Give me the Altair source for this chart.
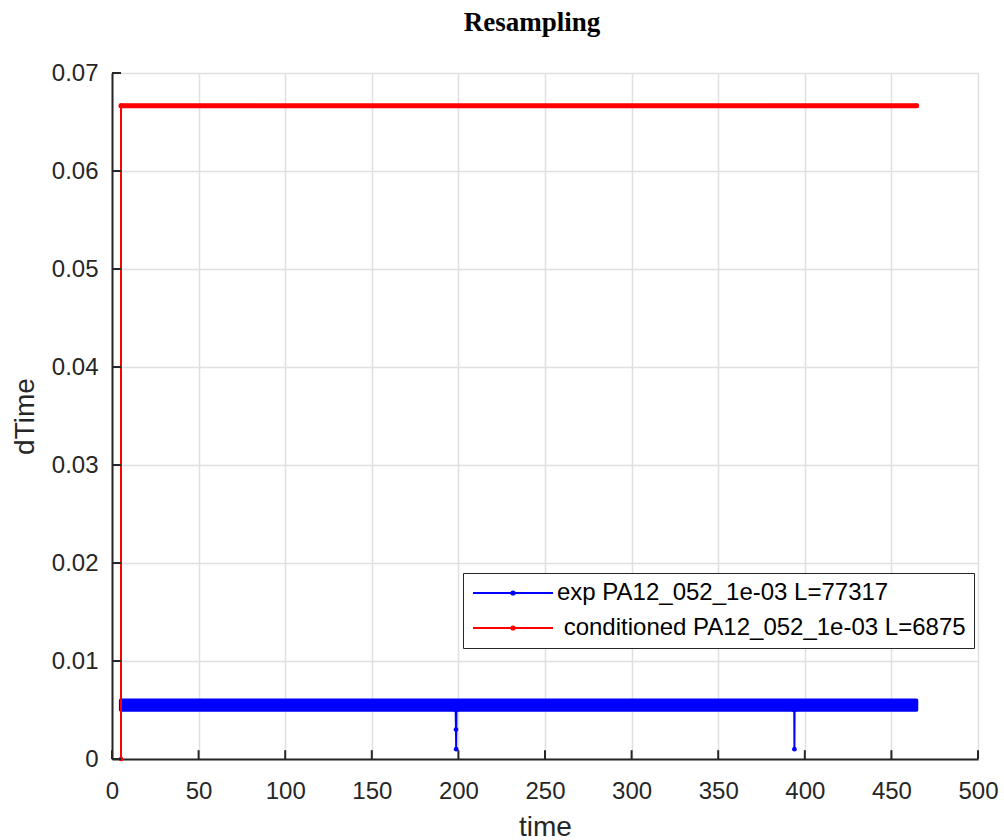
import altair as alt
import pandas as pd

# ---- data ----
x_ticks = [0, 50, 100, 150, 200, 250, 300, 350, 400, 450, 500]
y_ticks = [0, 0.01, 0.02, 0.03, 0.04, 0.05, 0.06, 0.07]

exp_label = "exp PA12_052_1e-03 L=77317"
cond_label = "\u200b conditioned PA12_052_1e-03 L=6875"

# the dense experimental samples oscillate between these two levels (drawn as a band)
band_t = [5.0, 464.5]
band_lo = [0.0050, 0.0050]
band_hi = [0.0060, 0.0060]

# isolated experimental samples that drop out of the band
exp_t = [198.4, 198.6, 198.7, 198.9, 393.9, 394.0, 394.1]
exp_dt = [0.0050, 0.0030, 0.0010, 0.0050, 0.0050, 0.0010, 0.0050]

# conditioned signal
cond_t = [5.2, 5.2, 464.5]
cond_dt = [0.0, 0.06667, 0.06667]

BLUE = "#0000ff"
RED = "#ff0000"
AX = "#262626"
FONT = "Liberation Sans"

band_df = pd.DataFrame({"t": band_t, "lo": band_lo, "hi": band_hi})
lines_df = pd.DataFrame({
    "series": [exp_label] * len(exp_t) + [cond_label] * len(cond_t),
    "t": exp_t + cond_t,
    "dt": exp_dt + cond_dt,
    "idx": list(range(len(exp_t))) + list(range(len(cond_t))),
})
dense_df = pd.DataFrame({"t": cond_t[1:], "dt": cond_dt[1:]})
xt_df = pd.DataFrame({"v": x_ticks})
yt_df = pd.DataFrame({"v": y_ticks})

xscale = alt.Scale(domain=[0, 500], nice=False, zero=False)
yscale = alt.Scale(domain=[0, 0.07], nice=False, zero=False)

xaxis = alt.Axis(
    values=x_ticks, title="time", grid=True, ticks=False, labelFlush=False,
    labelFont=FONT, labelFontSize=24, labelColor=AX, labelPadding=20,
    domainColor=AX, domainWidth=2, gridColor="#e0e0e0", gridWidth=1.5,
    titleFont=FONT, titleFontSize=28, titleFontWeight="normal", titleColor=AX,
    titleX=433, titleY=76, titleBaseline="alphabetic", titleAlign="center",
)
yaxis = alt.Axis(
    values=y_ticks, title="dTime", grid=True, ticks=False, format=".2~f", labelFlush=False,
    labelFont=FONT, labelFontSize=24, labelColor=AX, labelPadding=14,
    domainColor=AX, domainWidth=2, gridColor="#e0e0e0", gridWidth=1.5,
    titleFont=FONT, titleFontSize=28, titleFontWeight="normal", titleColor=AX,
    titleX=-79, titleY=343, titleBaseline="alphabetic", titleAlign="center", titleAngle=270,
)

X = lambda f: alt.X(f, scale=xscale, axis=xaxis)
Y = lambda f: alt.Y(f, scale=yscale, axis=yaxis)

band = alt.Chart(band_df).mark_area(
    color=BLUE, stroke=BLUE, strokeWidth=3.5, strokeJoin="round", opacity=1
).encode(
    x=X("t:Q"),
    y=Y("lo:Q"),
    y2="hi:Q",
)

# legend symbol: an 80 px line with a dot in the middle (scaled by sqrt(size)/2 = 10)
legend_symbol = "M-4,0L4,0M0.16,0A0.16,0.16,0,1,1,-0.16,0A0.16,0.16,0,1,1,0.16,0"

lines = alt.Chart(lines_df).mark_line(strokeWidth=2).encode(
    x=X("t:Q"),
    y=Y("dt:Q"),
    color=alt.Color(
        "series:N",
        scale=alt.Scale(domain=[exp_label, cond_label], range=[BLUE, RED]),
        legend=alt.Legend(
            title=None, orient="none", legendX=351, legendY=500,
            symbolType=legend_symbol, symbolSize=400, symbolStrokeWidth=2,
            symbolOffset=30, labelOffset=32,
            labelFont=FONT, labelFontSize=24, labelColor="black", labelLimit=1000,
            padding=8, rowPadding=11,
            strokeColor=AX, fillColor="white",
        ),
    ),
    detail="series:N",
    order="idx:Q",
)

dense = alt.Chart(dense_df).mark_line(color=RED, strokeWidth=5, strokeCap="round").encode(
    x=X("t:Q"),
    y=Y("dt:Q"),
)

points = alt.Chart(lines_df).mark_circle(size=22, opacity=1).encode(
    x=X("t:Q"),
    y=Y("dt:Q"),
    color=alt.Color("series:N", scale=alt.Scale(domain=[exp_label, cond_label], range=[BLUE, RED]), legend=None),
)

# inward-pointing tick marks (MATLAB style), ~9 px long
TICK_Y = 0.0009   # 9 px in y data units
TICK_X = 5.2      # 9 px in x data units
xticks_layer = alt.Chart(xt_df).mark_rule(color=AX, strokeWidth=2).encode(
    x=X("v:Q"),
    y=alt.datum(0, scale=yscale),
    y2=alt.datum(TICK_Y),
)
yticks_layer = alt.Chart(yt_df).mark_rule(color=AX, strokeWidth=2).encode(
    y=Y("v:Q"),
    x=alt.datum(0, scale=xscale),
    x2=alt.datum(TICK_X),
)

chart = alt.layer(band, lines, dense, points, xticks_layer, yticks_layer).properties(
    width=866,
    height=686,
    autosize=alt.AutoSizeParams(type="none"),
    padding={"left": 112, "top": 73, "right": 26, "bottom": 81},
    title=alt.TitleParams(
        text="Resampling", font="Liberation Serif", fontSize=27, fontWeight="bold",
        color="black", anchor="middle", frame="group", dx=-13, offset=3,
        baseline="alphabetic",
    ),
).configure_view(stroke=None).configure_axis(ticks=False).configure_legend(strokeWidth=2).configure(background="white")

chart.save("out.html", embed_options={"renderer": "svg", "actions": False})
